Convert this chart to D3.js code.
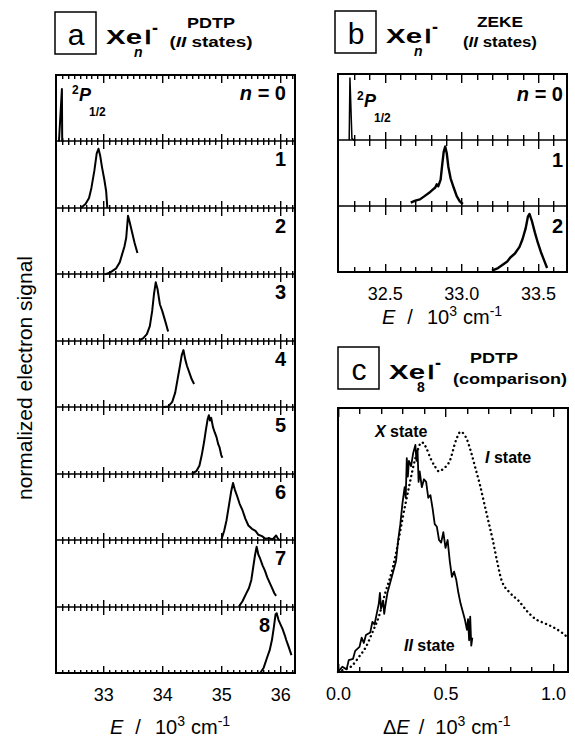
<!DOCTYPE html>
<html>
<head>
<meta charset="utf-8">
<script src="https://cdn.jsdelivr.net/npm/d3@7/dist/d3.min.js"></script>
<style>
body { margin: 0; background: #fff; }
svg { font-family: "Liberation Sans", Arial, Helvetica, sans-serif; }
</style>
</head>
<body>
<div id="fig"></div>
<script>
// ---- data ----
const energyTicksA = [33, 34, 35, 36];
const energyTicksB = [32.5, 33.0, 33.5];
const deltaTicksC = [0.0, 0.5, 1.0];
const clusterSizesA = ["0", "1", "2", "3", "4", "5", "6", "7", "8"];
const clusterSizesB = ["0", "1", "2"];

// PDTP spectra, panel a: [E (10^3 cm-1), normalized signal]
const pdtpN0 = [[32.25, 0], [32.30, 0.79], [32.305, 0]];
const pdtpN1 = [[32.62, 0], [32.70, 0.06], [32.76, 0.15], [32.80, 0.3], [32.85, 0.56], [32.89, 0.82], [32.92, 0.89], [32.95, 0.78], [32.98, 0.61], [33.02, 0.42], [33.05, 0.25], [33.07, 0]];
const pdtpN2 = [[33.03, 0], [33.12, 0.03], [33.22, 0.09], [33.28, 0.18], [33.32, 0.30], [33.36, 0.42], [33.39, 0.55], [33.42, 0.88], [33.45, 0.78], [33.49, 0.63], [33.53, 0.48], [33.58, 0.32]];
const pdtpN3 = [[33.60, 0], [33.68, 0.04], [33.74, 0.10], [33.79, 0.22], [33.83, 0.45], [33.86, 0.70], [33.89, 0.88], [33.92, 0.78], [33.96, 0.55], [34.00, 0.45], [34.05, 0.30], [34.10, 0.14]];
const pdtpN4 = [[34.00, 0], [34.10, 0.01], [34.17, 0.08], [34.22, 0.22], [34.26, 0.42], [34.30, 0.62], [34.33, 0.78], [34.36, 0.86], [34.39, 0.72], [34.42, 0.62], [34.46, 0.52], [34.50, 0.42], [34.54, 0.35]];
const pdtpN5 = [[34.50, 0], [34.58, 0.04], [34.63, 0.12], [34.67, 0.28], [34.71, 0.48], [34.74, 0.66], [34.77, 0.82], [34.79, 0.88], [34.81, 0.80], [34.83, 0.84], [34.86, 0.70], [34.89, 0.62], [34.92, 0.55], [34.95, 0.44], [34.97, 0.40], [35.00, 0.28], [35.02, 0.24]];
const pdtpN6 = [[35.00, 0], [35.05, 0.14], [35.09, 0.30], [35.13, 0.52], [35.17, 0.74], [35.20, 0.86], [35.23, 0.76], [35.27, 0.66], [35.31, 0.55], [35.36, 0.45], [35.41, 0.32], [35.46, 0.22], [35.52, 0.17], [35.58, 0.14], [35.63, 0.08], [35.69, 0.06], [35.75, 0.02], [35.81, 0.03], [35.87, 0.01], [35.93, 0.07], [35.97, 0.01], [36.02, 0]];
const pdtpN7 = [[35.30, 0], [35.36, 0.08], [35.42, 0.19], [35.47, 0.28], [35.51, 0.40], [35.54, 0.58], [35.57, 0.76], [35.60, 0.90], [35.63, 0.78], [35.66, 0.72], [35.70, 0.62], [35.74, 0.54], [35.78, 0.44], [35.82, 0.36], [35.86, 0.28], [35.90, 0.20], [35.93, 0.16]];
const pdtpN8 = [[35.66, 0], [35.72, 0.08], [35.78, 0.24], [35.82, 0.34], [35.86, 0.50], [35.89, 0.68], [35.92, 0.88], [35.94, 0.90], [35.97, 0.80], [36.00, 0.74], [36.04, 0.66], [36.08, 0.56], [36.10, 0.50], [36.14, 0.40], [36.19, 0.27]];

// ZEKE spectra, panel b
const zekeN0 = [[32.268, 0], [32.273, 0.94], [32.286, 0.02], [32.30, 0]];
const zekeN1 = [[32.67, 0.05], [32.70, 0.08], [32.73, 0.10], [32.76, 0.15], [32.79, 0.20], [32.81, 0.24], [32.83, 0.28], [32.84, 0.33], [32.85, 0.30], [32.865, 0.40], [32.875, 0.62], [32.885, 0.82], [32.895, 0.90], [32.905, 0.80], [32.915, 0.60], [32.93, 0.42], [32.95, 0.28], [32.97, 0.15], [32.99, 0.07], [33.01, 0.03]];
const zekeN2 = [[33.20, 0.02], [33.24, 0.06], [33.27, 0.11], [33.30, 0.16], [33.32, 0.22], [33.35, 0.28], [33.38, 0.38], [33.40, 0.50], [33.42, 0.66], [33.435, 0.84], [33.445, 0.88], [33.46, 0.78], [33.48, 0.60], [33.50, 0.44], [33.52, 0.30], [33.54, 0.18], [33.56, 0.06]];

// panel c: Xe8I- comparison, [dE, signal]
const xe8Solid = [[0.0, 0.0], [0.02, 0.02], [0.04, 0.01], [0.05, 0.045], [0.07, 0.05], [0.08, 0.08], [0.10, 0.095], [0.11, 0.13], [0.12, 0.11], [0.13, 0.14], [0.15, 0.15], [0.16, 0.19], [0.17, 0.18], [0.18, 0.22], [0.19, 0.26], [0.195, 0.30], [0.20, 0.24], [0.21, 0.27], [0.215, 0.22], [0.22, 0.25], [0.23, 0.30], [0.25, 0.36], [0.27, 0.42], [0.28, 0.50], [0.29, 0.56], [0.30, 0.64], [0.31, 0.70], [0.315, 0.66], [0.32, 0.81], [0.325, 0.74], [0.33, 0.80], [0.34, 0.78], [0.35, 0.83], [0.36, 0.86], [0.365, 0.80], [0.37, 0.84], [0.375, 0.72], [0.38, 0.76], [0.39, 0.70], [0.40, 0.73], [0.41, 0.72], [0.42, 0.66], [0.43, 0.67], [0.44, 0.62], [0.45, 0.56], [0.46, 0.55], [0.47, 0.50], [0.48, 0.49], [0.49, 0.53], [0.50, 0.47], [0.51, 0.50], [0.52, 0.42], [0.53, 0.36], [0.54, 0.38], [0.55, 0.35], [0.56, 0.30], [0.57, 0.26], [0.58, 0.23], [0.59, 0.20], [0.60, 0.16], [0.605, 0.20], [0.61, 0.12], [0.615, 0.21], [0.62, 0.10], [0.625, 0.13]];
const xe8Dotted = [[0.0, 0.0], [0.03, 0.01], [0.06, 0.02], [0.10, 0.06], [0.13, 0.095], [0.16, 0.15], [0.19, 0.21], [0.22, 0.30], [0.25, 0.38], [0.27, 0.45], [0.30, 0.58], [0.33, 0.70], [0.36, 0.81], [0.39, 0.87], [0.41, 0.85], [0.43, 0.81], [0.45, 0.78], [0.47, 0.76], [0.49, 0.77], [0.52, 0.80], [0.55, 0.88], [0.57, 0.91], [0.60, 0.88], [0.62, 0.83], [0.64, 0.77], [0.66, 0.71], [0.68, 0.64], [0.70, 0.57], [0.72, 0.50], [0.74, 0.42], [0.76, 0.35], [0.80, 0.30], [0.84, 0.27], [0.88, 0.23], [0.92, 0.20], [0.96, 0.185], [1.00, 0.17], [1.04, 0.15], [1.07, 0.13]];

const pdtpSpectra = [pdtpN0, pdtpN1, pdtpN2, pdtpN3, pdtpN4, pdtpN5, pdtpN6, pdtpN7, pdtpN8];
const zekeSpectra = [zekeN0, zekeN1, zekeN2];

// ---- layout ----
const W = 575, H = 740;
const svg = d3.select("#fig").append("svg")
	.attr("width", W)
	.attr("height", H);

const boxA = { left: 56, right: 295, top: 75, bottom: 673 };
const boxB = { left: 338, right: 567, top: 74, bottom: 272 };
const boxC = { left: 338, right: 568, top: 408, bottom: 672 };

const xA = d3.scaleLinear().domain([32.2, 36.25]).range([boxA.left, boxA.right]);
const xB = d3.scaleLinear().domain([32.195, 33.69]).range([boxB.left, boxB.right]);
const xC = d3.scaleLinear().domain([0, 1.07]).range([boxC.left, boxC.right]);

// inward ticks on the top and bottom edge of a strip (thin filled rects)
function stripTicks(g, x, minor, major, top, bottom, lenMinor, lenMajor) {
	const isMajor = v => major.some(m => Math.abs(m - v) < 1e-6);
	const len = v => isMajor(v) ? lenMajor : lenMinor;
	const tg = g.append("g");
	tg.selectAll("rect.t")
		.data(minor)
		.join("rect")
		.attr("class", "t")
		.attr("x", d => Math.round(x(d)))
		.attr("y", Math.round(top))
		.attr("width", 1.4)
		.attr("height", d => len(d) + 1)
		.attr("fill", "#000");
	tg.selectAll("rect.b")
		.data(minor)
		.join("rect")
		.attr("class", "b")
		.attr("x", d => Math.round(x(d)))
		.attr("y", d => Math.round(bottom) - len(d))
		.attr("width", 1.4)
		.attr("height", d => len(d) + 1)
		.attr("fill", "#000");
}

function tickLabels(g, x, vals, y, fmt) {
	g.append("g")
		.attr("transform", `translate(0, ${y})`)
		.call(d3.axisBottom(x).tickValues(vals).tickSize(0).tickPadding(15).tickFormat(fmt))
		.call(s => s.select(".domain").remove())
		.selectAll("text")
		.attr("font-size", 18)
		.attr("fill", "#000")
		.attr("font-family", "Liberation Sans, Arial, sans-serif");
}

function axisTitle(g, x0, y, delta) {
	const t = g.append("text")
		.attr("x", x0).attr("y", y)
		.attr("font-size", 20);
	if (delta) t.append("tspan").text("\u0394");
	t.append("tspan").attr("font-style", "italic").text("E");
	t.append("tspan").attr("dx", delta ? 9 : 12).text("/");
	t.append("tspan").attr("dx", delta ? 11 : 14).text("10");
	t.append("tspan").attr("font-size", 14).attr("dy", -8).text("3");
	t.append("tspan").attr("dy", 8).attr("dx", 6).text("cm");
	t.append("tspan").attr("font-size", 14).attr("dy", -8).text("-1");
}

function header(x0, letter, sub, top, topX, boxY) {
	const g = svg.append("g");
	g.append("rect")
		.attr("x", x0).attr("y", boxY).attr("width", 41).attr("height", 42)
		.attr("fill", "none").attr("stroke", "#000").attr("stroke-width", 1.5);
	g.append("text")
		.attr("x", x0 + 21).attr("y", boxY + 33)
		.attr("text-anchor", "middle").attr("font-size", 30)
		.text(letter);
	const f = g.append("text").attr("font-weight", "bold");
	f.append("tspan").attr("x", x0 + 51).attr("y", boxY + 32).attr("font-size", 21)
		.attr("textLength", 36).attr("lengthAdjust", "spacingAndGlyphs").text("Xe");
	f.append("tspan").attr("x", x0 + 79).attr("y", boxY + 45).attr("font-size", 14)
		.attr("font-style", sub === "n" ? "italic" : "normal").text(sub);
	f.append("tspan").attr("x", x0 + 90).attr("y", boxY + 32).attr("font-size", 21)
		.attr("stroke", "#000").attr("stroke-width", 0.6).text("I");
	f.append("tspan").attr("x", x0 + 97).attr("y", boxY + 22).attr("font-size", 18).text("-");
	g.append("text")
		.attr("class", "method")
		.attr("x", topX).attr("y", boxY + 16)
		.attr("text-anchor", "middle").attr("font-weight", "bold").attr("font-size", 14)
		.attr("textLength", 48).attr("lengthAdjust", "spacingAndGlyphs")
		.text(top);
	return g;
}

const line = (x, y) => d3.line().x(d => x(d[0])).y(d => y(d[1]));

function p12(g, x, y) {
	const t = g.append("text").attr("font-weight", "bold");
	t.append("tspan").attr("x", x).attr("y", y - 7).attr("font-size", 12).text("2");
	t.append("tspan").attr("x", x + 7).attr("y", y).attr("font-size", 18).attr("font-style", "italic").text("P");
	t.append("tspan").attr("x", x + 17).attr("y", y + 15).attr("font-size", 12).text("1/2");
}

// ---- panel a ----
const gA = svg.append("g");
const stripA = (boxA.bottom - boxA.top) / pdtpSpectra.length;
const minorA = d3.range(323, 363).map(d => d / 10);

pdtpSpectra.forEach((spec, i) => {
	const top = boxA.top + i * stripA, bottom = top + stripA;
	const y = d3.scaleLinear().domain([0, 1]).range([bottom, top]);
	gA.append("line")
		.attr("x1", boxA.left).attr("x2", boxA.right)
		.attr("y1", Math.round(bottom)).attr("y2", Math.round(bottom))
		.attr("stroke", "#000").attr("stroke-width", 1.6);
	stripTicks(gA, xA, minorA, energyTicksA, top, bottom, 3, 7);
	gA.append("path")
		.datum(spec)
		.attr("d", line(xA, y))
		.attr("fill", "none").attr("stroke", "#000").attr("stroke-width", 2)
		.attr("stroke-linejoin", "round");
	const lab = gA.append("text")
		.attr("x", i === 8 ? boxA.right - 25 : boxA.right - 9)
		.attr("y", top + 25)
		.attr("text-anchor", "end").attr("font-weight", "bold").attr("font-size", 20);
	if (i === 0) {
		lab.append("tspan").attr("font-style", "italic").text("n");
		lab.append("tspan").text(" = " + clusterSizesA[i]);
	} else {
		lab.text(clusterSizesA[i]);
	}
});
gA.append("rect")
	.attr("x", boxA.left).attr("y", boxA.top)
	.attr("width", boxA.right - boxA.left).attr("height", boxA.bottom - boxA.top)
	.attr("fill", "none").attr("stroke", "#000").attr("stroke-width", 2);
p12(gA, 72, 101);

tickLabels(gA, xA, energyTicksA, boxA.bottom, d3.format("d"));
axisTitle(gA, 110, 734, false);

// ---- panel b ----
const gB = svg.append("g");
const stripB = (boxB.bottom - boxB.top) / zekeSpectra.length;
const minorB = d3.range(323, 337).map(d => d / 10);

zekeSpectra.forEach((spec, i) => {
	const top = boxB.top + i * stripB, bottom = top + stripB;
	const y = d3.scaleLinear().domain([0, 1]).range([bottom, top]);
	gB.append("line")
		.attr("x1", boxB.left).attr("x2", boxB.right)
		.attr("y1", bottom).attr("y2", bottom)
		.attr("stroke", "#000").attr("stroke-width", 1.6);
	stripTicks(gB, xB, minorB, energyTicksB, top, bottom, 5, 8);
	gB.append("path")
		.datum(spec)
		.attr("d", line(xB, y))
		.attr("fill", "none").attr("stroke", "#000").attr("stroke-width", i === 0 ? 1.5 : 2.4)
		.attr("stroke-linejoin", "round");
	const lab = gB.append("text")
		.attr("x", boxB.right - 4).attr("y", top + 27)
		.attr("text-anchor", "end").attr("font-weight", "bold").attr("font-size", 20);
	if (i === 0) {
		lab.append("tspan").attr("font-style", "italic").text("n");
		lab.append("tspan").text(" = " + clusterSizesB[i]);
	} else {
		lab.text(clusterSizesB[i]);
	}
});
gB.append("rect")
	.attr("x", boxB.left).attr("y", boxB.top)
	.attr("width", boxB.right - boxB.left).attr("height", boxB.bottom - boxB.top)
	.attr("fill", "none").attr("stroke", "#000").attr("stroke-width", 2);
p12(gB, 357, 107);

tickLabels(gB, xB, energyTicksB, boxB.bottom, d3.format(".1f"));
axisTitle(gB, 382, 324, false);

// ---- panel c ----
const gC = svg.append("g");
const yC = d3.scaleLinear().domain([0, 1]).range([boxC.bottom, boxC.top]);
const minorC = d3.range(0, 11).map(d => d / 10);
stripTicks(gC, xC, minorC, deltaTicksC, boxC.top, boxC.bottom, 5, 8);
gC.append("path")
	.datum(xe8Dotted)
	.attr("d", line(xC, yC).curve(d3.curveMonotoneX))
	.attr("fill", "none").attr("stroke", "#000").attr("stroke-width", 2.4)
	.attr("stroke-dasharray", "0.1 4.5").attr("stroke-linecap", "round");
gC.append("path")
	.datum(xe8Solid)
	.attr("d", line(xC, yC))
	.attr("fill", "none").attr("stroke", "#000").attr("stroke-width", 1.8)
	.attr("stroke-linejoin", "round");
gC.append("rect")
	.attr("x", boxC.left).attr("y", boxC.top)
	.attr("width", boxC.right - boxC.left).attr("height", boxC.bottom - boxC.top)
	.attr("fill", "none").attr("stroke", "#000").attr("stroke-width", 2);

function stateLabel(g, x, y, sym) {
	const t = g.append("text").attr("x", x).attr("y", y)
		.attr("font-weight", "bold").attr("font-size", 16);
	t.append("tspan").attr("font-style", "italic").text(sym);
	t.append("tspan").text(" state");
}
stateLabel(gC, 375, 437, "X");
stateLabel(gC, 485, 463, "I");
stateLabel(gC, 404, 651, "II");

tickLabels(gC, xC, deltaTicksC, boxC.bottom, d3.format(".1f"));
axisTitle(gC, 383, 734, true);

// ---- headers ----
function statesLine(g, x, y, len) {
	g.append("text")
		.attr("x", x).attr("y", y)
		.attr("text-anchor", "middle").attr("font-weight", "bold").attr("font-size", 14)
		.attr("textLength", len).attr("lengthAdjust", "spacingAndGlyphs")
		.call(t => {
			t.append("tspan").text("(");
			t.append("tspan").attr("font-style", "italic").text("II");
			t.append("tspan").text(" states)");
		});
}
const hA = header(55, "a", "n", "PDTP", 211, 12);
statesLine(hA, 211, 47, 83);
const hB = header(335, "b", "n", "ZEKE", 500, 11);
hB.select(".method").attr("textLength", 46);
statesLine(hB, 500, 47, 74);
const hC = header(338, "c", "8", "PDTP", 494, 347);
hC.append("text")
	.attr("x", 510).attr("y", 384)
	.attr("text-anchor", "middle").attr("font-weight", "bold").attr("font-size", 14)
	.attr("textLength", 114).attr("lengthAdjust", "spacingAndGlyphs")
	.text("(comparison)");

// y label
svg.append("text")
	.attr("transform", "translate(32, 378) rotate(-90)")
	.attr("text-anchor", "middle")
	.attr("font-size", 21)
	.text("normalized electron signal");
</script>
</body>
</html>
